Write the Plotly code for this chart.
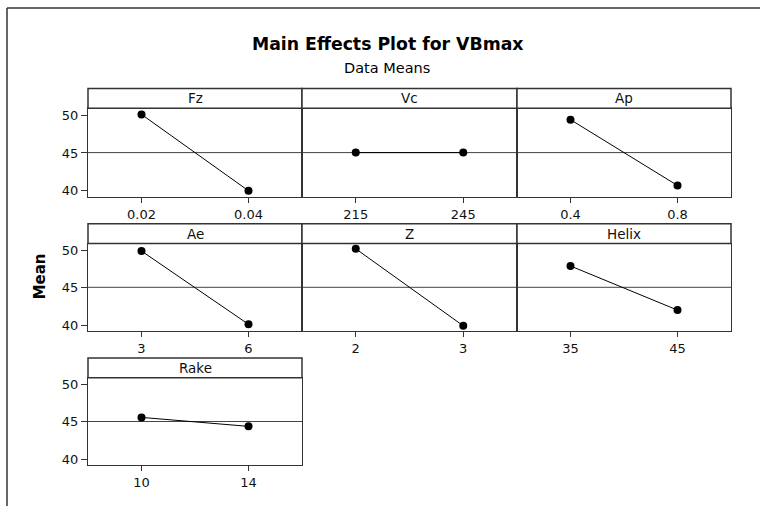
import plotly.graph_objects as go

# ---- data ----
factors = ["Fz", "Vc", "Ap", "Ae", "Z", "Helix", "Rake"]
levels = [["0.02", "0.04"], ["215", "245"], ["0.4", "0.8"], ["3", "6"],
          ["2", "3"], ["35", "45"], ["10", "14"]]
means = [[50.1, 40.0], [45.05, 45.05], [49.4, 40.7], [49.9, 40.1],
         [50.2, 39.9], [47.9, 42.0], [45.6, 44.4]]
grand_mean = 45.05
y_ticks = [40, 45, 50]

# ---- layout geometry (pixels) ----
W, H = 760, 508
cols_px = [(88, 302), (302, 517), (517, 731)]
rows_px = [(88, 108, 197), (224, 244, 332), (359, 379, 467)]  # header top, plot top, plot bottom
FONT = "DejaVu Sans"
LINE = "#333333"
TICKSIZE = 13

fig = go.Figure()
shapes = []
annotations = []
layout_axes = {}

for i, (name, lv, mv) in enumerate(zip(factors, levels, means)):
    r, c = divmod(i, 3)
    x0, x1 = cols_px[c]
    ht, pt, pb = rows_px[r]
    ax = i + 1
    xa = "x" if ax == 1 else f"x{ax}"
    ya = "y" if ax == 1 else f"y{ax}"
    fig.add_trace(go.Scatter(
        x=list(range(len(lv))), y=mv, mode="lines+markers",
        line=dict(color="black", width=1),
        marker=dict(color="black", size=8),
        xaxis=xa, yaxis=ya, showlegend=False, hoverinfo="skip"))
    xkey = "xaxis" if ax == 1 else f"xaxis{ax}"
    ykey = "yaxis" if ax == 1 else f"yaxis{ax}"
    layout_axes[xkey] = dict(
        domain=[x0 / W, x1 / W], anchor=ya, range=[-0.5, len(lv) - 0.5],
        tickvals=list(range(len(lv))), ticktext=lv,
        showline=True, mirror=True, linecolor=LINE, linewidth=1.3,
        ticks="outside", ticklen=5, tickcolor=LINE, showgrid=False, zeroline=False,
        tickfont=dict(family=FONT, size=TICKSIZE, color="#111111"), fixedrange=True)
    layout_axes[ykey] = dict(
        domain=[1 - pb / H, 1 - pt / H], anchor=xa, range=[39.2, 50.9],
        tickvals=y_ticks, showticklabels=(c == 0),
        ticks="outside" if c == 0 else "", ticklen=6, tickcolor=LINE,
        showline=True, mirror=True, linecolor=LINE, linewidth=1.3,
        showgrid=False, zeroline=False,
        tickfont=dict(family=FONT, size=TICKSIZE, color="#111111"), fixedrange=True)
    # grand mean reference line
    shapes.append(dict(type="line", xref=f"{xa} domain", yref=ya, x0=0, x1=1,
                       y0=grand_mean, y1=grand_mean, line=dict(color="#444444", width=1),
                       layer="below"))
    # header strip
    shapes.append(dict(type="rect", xref="paper", yref="paper",
                       x0=x0 / W, x1=x1 / W, y0=1 - pt / H, y1=1 - ht / H,
                       line=dict(color=LINE, width=1.5), fillcolor="white"))
    annotations.append(dict(text=name, xref="paper", yref="paper",
                            x=(x0 + x1) / 2 / W, y=1 - (ht + pt) / 2 / H,
                            xanchor="center", yanchor="middle", showarrow=False,
                            font=dict(family=FONT, size=13.5, color="#111111")))

# outer partial frame
shapes.append(dict(type="line", xref="paper", yref="paper", x0=7 / W, x1=1,
                   y0=1 - 7 / H, y1=1 - 7 / H, line=dict(color=LINE, width=1.5)))
shapes.append(dict(type="line", xref="paper", yref="paper", x0=7 / W, x1=7 / W,
                   y0=0, y1=1 - 7 / H, line=dict(color=LINE, width=1.5)))

# titles
annotations.append(dict(text="<b>Main Effects Plot for VBmax</b>", xref="paper", yref="paper",
                        x=387 / W, y=1 - 43 / H, xanchor="center", yanchor="middle",
                        showarrow=False, font=dict(family=FONT, size=17.3, color="black")))
annotations.append(dict(text="Data Means", xref="paper", yref="paper",
                        x=387 / W, y=1 - 67 / H, xanchor="center", yanchor="middle",
                        showarrow=False, font=dict(family=FONT, size=14.5, color="black")))
annotations.append(dict(text="<b>Mean</b>", xref="paper", yref="paper",
                        x=40 / W, y=1 - 277 / H, xanchor="center", yanchor="middle",
                        textangle=-90, showarrow=False,
                        font=dict(family=FONT, size=15, color="black")))

fig.update_layout(width=W, height=H, margin=dict(l=0, r=0, t=0, b=0),
                  paper_bgcolor="white", plot_bgcolor="white",
                  shapes=shapes, annotations=annotations, **layout_axes)

fig.write_html("out.html", config={"displayModeBar": False},
               post_script="document.body.style.margin='0';document.body.style.overflow='hidden';")
